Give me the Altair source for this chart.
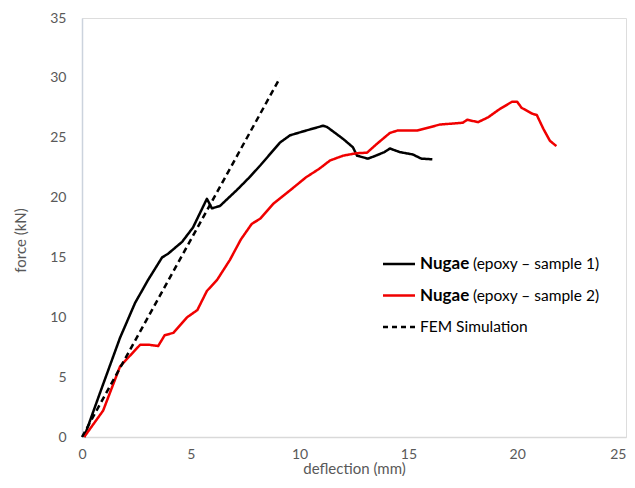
import altair as alt
import pandas as pd

# Sample 1 (black)
s1_x = [0.1, 0.83, 1.75, 2.44, 3.03, 3.68, 3.95, 4.6, 5.1, 5.74, 5.97, 6.34, 7.1, 7.7, 8.2, 9.1, 9.56, 10.3, 11.08, 11.26, 12.0, 12.45, 12.64, 13.14, 13.5, 13.9, 14.15, 14.6, 15.2, 15.6, 16.1]
s1_y = [0.0, 3.7, 8.3, 11.2, 13.1, 15.0, 15.3, 16.3, 17.5, 19.9, 19.1, 19.3, 20.6, 21.7, 22.7, 24.6, 25.2, 25.6, 26.0, 25.9, 24.9, 24.2, 23.5, 23.25, 23.5, 23.8, 24.1, 23.8, 23.6, 23.25, 23.2]

# Sample 2 (red)
s2_x = [0.1, 0.97, 1.75, 2.67, 3.1, 3.5, 3.8, 4.2, 4.83, 5.3, 5.74, 6.2, 6.8, 7.3, 7.8, 8.2, 8.8, 9.56, 10.3, 10.9, 11.4, 12.0, 12.6, 13.1, 13.56, 14.15, 14.5, 15.4, 16.45, 17.5, 17.7, 18.2, 18.66, 19.2, 19.76, 20.0, 20.2, 20.7, 20.9, 21.2, 21.5, 21.8]
s2_y = [0.0, 2.2, 5.9, 7.7, 7.7, 7.6, 8.5, 8.7, 10.0, 10.6, 12.2, 13.1, 14.8, 16.5, 17.8, 18.25, 19.5, 20.6, 21.7, 22.4, 23.1, 23.5, 23.7, 23.75, 24.5, 25.4, 25.6, 25.6, 26.1, 26.25, 26.5, 26.3, 26.7, 27.4, 28.0, 28.0, 27.5, 27.0, 26.9, 25.75, 24.75, 24.3]

# FEM simulation (dashed)
fem_x = [0.0, 9.1]
fem_y = [0.0, 30.0]

series = ["sample1", "sample2", "fem"]
colors = ["#000000", "#f00000", "#000000"]
dashes = [[1, 0], [1, 0], [6, 4]]

rows = []
for name, xs, ys in [("sample1", s1_x, s1_y), ("sample2", s2_x, s2_y), ("fem", fem_x, fem_y)]:
    for i, (x, y) in enumerate(zip(xs, ys)):
        rows.append({"series": name, "x": x, "y": y, "i": i})
df = pd.DataFrame(rows)

FONT = "Lato"
LABEL_COLOR = "#595959"

base = alt.Chart(df)

lines = base.mark_line(strokeJoin="round").encode(
    x=alt.X("x:Q", scale=alt.Scale(domain=[0, 25], nice=False),
            axis=alt.Axis(title="deflection (mm)", values=[0, 5, 10, 15, 20, 25],
                          grid=False, ticks=False, domainColor="#d9d9d9", domainWidth=1.5,
                          labelFlush=False,
                          labelAlign=alt.ExprRef(expr="datum.value == 25 ? 'right' : 'center'"),
                          labelColor=LABEL_COLOR, labelFontSize=14, labelFont=FONT, labelPadding=10,
                          titleColor=LABEL_COLOR, titleFontSize=15, titleFont=FONT,
                          titleFontWeight="normal", titlePadding=0)),
    y=alt.Y("y:Q", scale=alt.Scale(domain=[0, 35], nice=False),
            axis=alt.Axis(title="force (kN)", values=[0, 5, 10, 15, 20, 25, 30, 35],
                          grid=False, ticks=False, domainColor="#ccd3dd", domainWidth=1.5,
                          labelFlush=False,
                          labelColor=LABEL_COLOR, labelFontSize=14, labelFont=FONT, labelPadding=16,
                          titleColor=LABEL_COLOR, titleFontSize=15, titleFont=FONT,
                          titleFontWeight="normal", titleX=-62, titleY=222,
                          titleBaseline="middle")),
    color=alt.Color("series:N", scale=alt.Scale(domain=series, range=colors), legend=None),
    strokeDash=alt.StrokeDash("series:N", scale=alt.Scale(domain=series, range=dashes), legend=None),
    strokeWidth=alt.StrokeWidth("series:N", scale=alt.Scale(domain=series, range=[2.5, 2.5, 1.8]), legend=None),
    order="i:Q",
    detail="series:N",
)

# Custom legend (mixed bold/normal text)
leg_labels = ["sample1", "sample2", "fem"]
leg_bold = ["Nugae", "Nugae", ""]
leg_rest = ["(epoxy \u2013 sample 1)", "(epoxy \u2013 sample 2)", "FEM Simulation"]
leg_df = pd.DataFrame({"series": leg_labels, "bold": leg_bold, "rest": leg_rest,
                       "row": [0, 1, 2]})
leg_y = alt.Y("row:Q", scale=alt.Scale(domain=[0, 2], range=[246, 309]), axis=None)

leg_lines = alt.Chart(leg_df).mark_rule().encode(
    x=alt.value(301), x2=alt.value(333),
    y=leg_y,
    color=alt.Color("series:N", scale=alt.Scale(domain=series, range=colors), legend=None),
    strokeDash=alt.StrokeDash("series:N", scale=alt.Scale(domain=series, range=[[1, 0], [1, 0], [5, 4]]), legend=None),
    strokeWidth=alt.StrokeWidth("series:N", scale=alt.Scale(domain=series, range=[2.5, 2.5, 2]), legend=None),
)
leg_bold_t = alt.Chart(leg_df.iloc[:2]).mark_text(align="left", baseline="middle", font=FONT,
                                                  fontSize=17, fontWeight="bold", color="#000000").encode(
    x=alt.value(338), y=leg_y, text="bold:N")
leg_rest_t = alt.Chart(leg_df.iloc[:2]).mark_text(align="left", baseline="middle", font=FONT,
                                                  fontSize=15.5, color="#000000").encode(
    x=alt.value(391), y=leg_y, text="rest:N")
leg_fem_t = alt.Chart(leg_df.iloc[2:]).mark_text(align="left", baseline="middle", font=FONT,
                                                 fontSize=15.5, color="#000000").encode(
    x=alt.value(338), y=leg_y, text="rest:N")

chart = alt.layer(lines, leg_lines, leg_bold_t, leg_rest_t, leg_fem_t).resolve_scale(
    y="independent", color="independent", strokeDash="independent", strokeWidth="independent"
).properties(
    width=544, height=419,
    autosize=alt.AutoSizeParams(type="none"),
    padding={"left": 74, "top": 10, "right": 1, "bottom": 39},
).configure_view(stroke=None).configure(background="white")

chart.save("out.html", embed_options={"renderer": "svg", "actions": False})
